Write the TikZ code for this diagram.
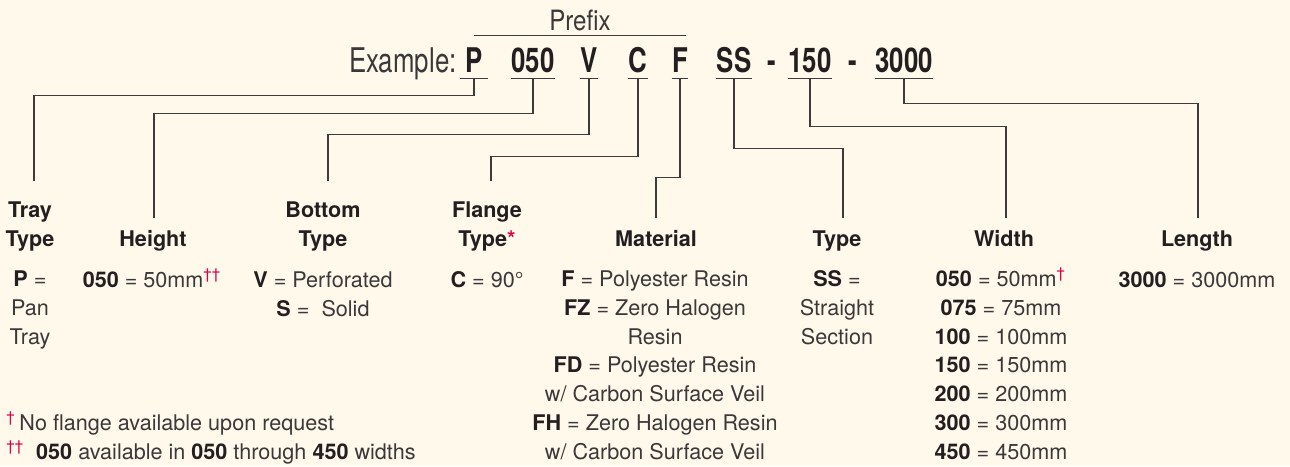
\documentclass[tikz,border=0pt]{standalone}
\usepackage{fontspec}
\setmainfont{TeX Gyre Heros}
\newfontfamily\headfont[FakeStretch=0.76]{TeX Gyre Heros}
\newfontfamily\prefixfont[FakeStretch=0.86]{TeX Gyre Heros}
\usepackage{xcolor}
\usetikzlibrary{positioning}

\definecolor{bgcream}{RGB}{255,249,236}
\definecolor{ink}{RGB}{35,31,32}
\definecolor{inkreg}{RGB}{58,56,56}
\definecolor{leadgray}{RGB}{60,60,60}
\definecolor{accent}{RGB}{224,0,75}

\newcommand{\cd}[1]{\textbf{\color{ink}#1}}
\newcommand{\dg}[1]{\textsuperscript{\color{accent}#1}}

\begin{document}
\begin{tikzpicture}[x=0.5pt, y=-0.5pt,
  code/.style={font=\headfont\fontsize{17}{20}\selectfont\bfseries, text=ink, inner sep=0pt, text depth=3pt, anchor=base},
  ttl/.style={font=\fontsize{10.8}{14.35}\selectfont\bfseries, text=ink, align=center, inner sep=0pt, anchor=base},
  body/.style={font=\fontsize{10.8}{14.35}\selectfont, text=inkreg, align=center, inner sep=0pt, anchor=base},
  lead/.style={draw=leadgray, line width=0.6pt}]
\fill[bgcream] (0,0) rectangle (1290,466);
\useasboundingbox (0,0) rectangle (1290,466);

% example code
\node[code, minimum width=14pt] (cP) at (474,72) {P};
\node[code] (cHt) at (533,72) {050};
\node[code] (cBot) at (589,72) {V};
\node[code] (cFl) at (638,72) {C};
\node[code] (cMat) at (680,72) {F};
\node[code] (cTyp) at (734,72) {SS};
\node[code] (dashA) at (772,72) {-};
\node[code] (cWid) at (810,72) {150};
\node[code] (dashB) at (853,72) {-};
\node[code] (cLen) at (904,72) {3000};
\node[code, font=\headfont\fontsize{17}{20}\selectfont, text=inkreg, anchor=base east] (exlbl) at (457,72) {Example:};
\node[font=\prefixfont\fontsize{14}{16}\selectfont, text=inkreg, inner sep=0pt, text depth=2.5pt, minimum width=106pt, anchor=base] (prefix) at (580,30) {Prefix};
\draw[lead] (prefix.south west) -- (prefix.south east);
\foreach \c in {cP,cHt,cBot,cFl,cMat,cTyp,cWid,cLen}
  \draw[lead] (\c.south west) -- (\c.south east);

% column titles (base = last line)
\node[ttl] (tTray) at (30,246) {Tray\\Type};
\node[ttl] (tHt) at (153,246) {Height};
\node[ttl] (tBot) at (323,246) {Bottom\\Type};
\node[ttl] (tFl) at (487,246) {Flange\\Type{\color{accent}*}};
\node[ttl] (tMat) at (656,246) {Material};
\node[ttl] (tTyp) at (837,246) {Type};
\node[ttl] (tWid) at (1004,246) {Width};
\node[ttl] (tLen) at (1197,246) {Length};

% column entries (base = last line)
\node[body] (bTray) at (30,344) {\cd{P} =\\Pan\\Tray};
\node[body] (bHt) at (152,287) {\cd{050} = 50mm\dg{††}};
\node[body] (bBot) at (323,316) {\cd{V} = Perforated\\\cd{S} = \ Solid};
\node[body] (bFl) at (487,287) {\cd{C} = 90°};
\node[body] (bMat) at (655,459) {\cd{F} = Polyester Resin\\\cd{FZ} = Zero Halogen\\Resin\\\cd{FD} = Polyester Resin\\w/ Carbon Surface Veil\\\cd{FH} = Zero Halogen Resin\\w/ Carbon Surface Veil};
\node[body] (bTyp) at (837,344) {\cd{SS} =\\Straight\\Section};
\node[body] (bWid) at (1001,459) {\cd{050} = 50mm\dg{†}\\\cd{075} = 75mm\\\cd{100} = 100mm\\\cd{150} = 150mm\\\cd{200} = 200mm\\\cd{300} = 300mm\\\cd{450} = 450mm};
\node[body] (bLen) at (1197,287) {\cd{3000} = 3000mm};
\node[body, align=left, anchor=base west] (notes) at (6,459) {\dg{†}\,No flange available upon request\\\dg{††}\ \ \cd{050} available in \cd{050} through \cd{450} widths};

% leaders
\draw[lead] (cP.south) -- ++(0,17) -| ([xshift=2pt,yshift=10pt]tTray.north);
\draw[lead] (cHt.south) -- ++(0,35) -| ([xshift=0.5pt,yshift=6pt]tHt.north);
\draw[lead] (cBot.south) -- ++(0,56) -| ([xshift=2.5pt,yshift=10pt]tBot.north);
\draw[lead] (cFl.south) -- ++(0,78) -| ([xshift=2pt,yshift=10pt]tFl.north);
\draw[lead] (cMat.south) -- ++(0,99) -| ([yshift=6pt]tMat.north);
\draw[lead] (cTyp.south) -- ++(0,70) -| ([xshift=3pt,yshift=6pt]tTyp.north);
\draw[lead] (cWid.south) -- ++(0,48) -| ([xshift=1pt,yshift=6pt]tWid.north);
\draw[lead] (cLen.south) -- ++(0,25) -| ([xshift=0.5pt,yshift=6pt]tLen.north);
\end{tikzpicture}
\end{document}
